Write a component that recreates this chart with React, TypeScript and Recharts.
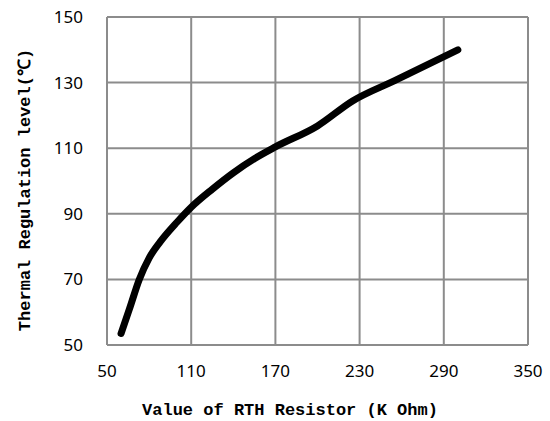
import { LineChart, Line, XAxis, YAxis, CartesianGrid, Label } from 'recharts'

// RTH resistor value (K Ohm) vs thermal regulation level
const resistance = [60, 66, 73, 80, 88, 100, 110, 125, 140, 155, 170, 200, 225, 255, 300]
const regulation = [53.5, 61, 70, 76.5, 81.5, 87.5, 92, 97.5, 102.5, 106.8, 110.4, 116.8, 124.4, 130.6, 140]

const xTicks = [50, 110, 170, 230, 290, 350]
const yTicks = [50, 70, 90, 110, 130, 150]

const data = resistance.map((r, i) => ({ r, t: regulation[i] }))

const tickStyle = { fontFamily: 'Noto Sans', fontSize: 17, fill: '#000' }
const titleStyle = { fontFamily: 'Liberation Mono', fontSize: 17, fontWeight: 'bold', fill: '#000' }

export default function App() {
    return (
        <div style={{ position: 'absolute', left: 0, top: 0, background: '#fff' }}>
            <LineChart width={550} height={421} data={data} margin={{ top: 17, right: 22, left: 0, bottom: 0 }}>
                <CartesianGrid stroke="#8c8c8c" strokeWidth={2} />
                <XAxis
                    dataKey="r"
                    type="number"
                    domain={[50, 350]}
                    ticks={xTicks}
                    axisLine={false}
                    tickLine={false}
                    tick={tickStyle}
                    tickMargin={14}
                    height={76}
                    interval={0}
                >
                    <Label
                        content={() => (
                            <text x={290} y={410} textAnchor="middle" dominantBaseline="central" style={titleStyle}>
                                Value of RTH Resistor (K Ohm)
                            </text>
                        )}
                    />
                </XAxis>
                <YAxis
                    type="number"
                    domain={[50, 150]}
                    ticks={yTicks}
                    axisLine={false}
                    tickLine={false}
                    tick={tickStyle}
                    tickMargin={18}
                    width={107}
                    interval={0}
                >
                    <Label
                        content={() => (
                            <text
                                x={25}
                                y={190}
                                transform="rotate(-90 25 190)"
                                textAnchor="middle"
                                dominantBaseline="central"
                                style={titleStyle}
                            >
                                Thermal Regulation level(℃)
                            </text>
                        )}
                    />
                </YAxis>
                <Line
                    type="monotone"
                    dataKey="t"
                    stroke="#000"
                    strokeWidth={7}
                    strokeLinecap="round"
                    dot={false}
                    isAnimationActive={false}
                />
            </LineChart>
        </div>
    )
}
